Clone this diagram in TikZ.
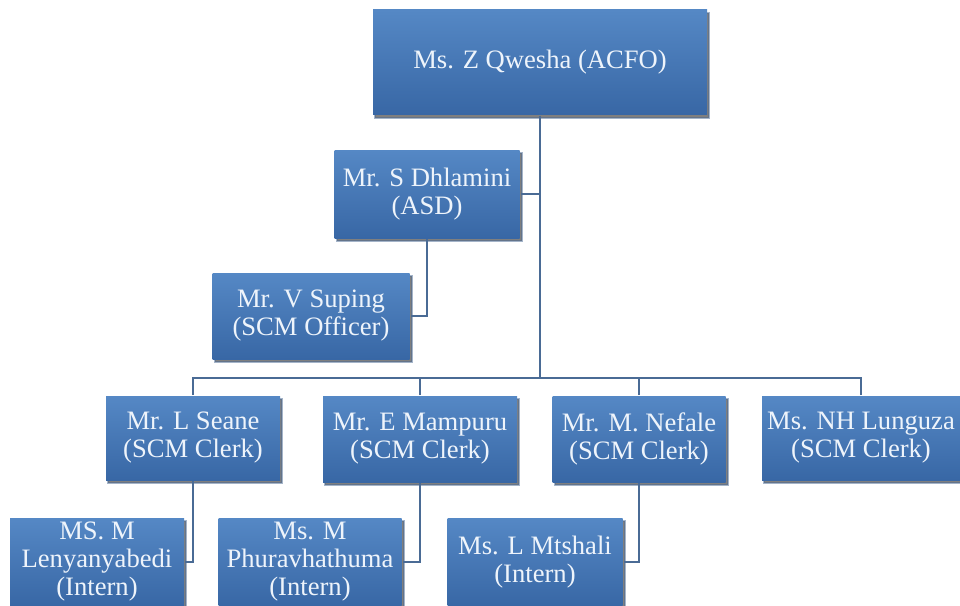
\documentclass[tikz,border=0pt]{standalone}
\usepackage{fontspec}
\setmainfont{Liberation Serif}
\usetikzlibrary{positioning,shadows}

\definecolor{boxtop}{HTML}{5588C5}
\definecolor{boxbot}{HTML}{3867A5}
\definecolor{linkcol}{HTML}{4A6B95}
\definecolor{txtcol}{HTML}{EEF4FB}

\begin{document}
\begin{tikzpicture}[
        x=0.5pt, y=-0.5pt,
        every node/.style={align=center, font=\fontsize{13.3}{14}\selectfont, text=txtcol},
        every path/.style={draw=linkcol, line width=1pt},
        person/.style={top color=boxtop, bottom color=boxbot, draw=none,
            inner sep=0pt, minimum width=#1, minimum height=43pt,
            drop shadow={shadow xshift=1pt, shadow yshift=-1.5pt, fill=black, opacity=0.5}}
    ]

    \useasboundingbox[fill=white, draw=none] (0,0) rectangle (960,606);

    % Nodes
    \node (acfo) [person=167pt, minimum height=52.5pt] at (540,62) {Ms. Z Qwesha (ACFO)};

    \node (asd) [person=92.5pt, minimum height=44pt] at (427,194) {Mr. S Dhlamini\\(ASD)};
    \node (officer) [person=98.5pt] at (311,316) {Mr. V Suping\\(SCM Officer)};

    \node (seane) [person=87pt, minimum height=42pt] at (193,438) {Mr. L Seane\\(SCM Clerk)};
    \node (mampuru) [person=97pt] at (420,439) {Mr. E Mampuru\\(SCM Clerk)};
    \node (nefale) [person=86.5pt] at (639,439) {Mr. M. Nefale\\(SCM Clerk)};
    \node (lunguza) [person=99pt, minimum height=42pt] at (861,438) {Ms. NH Lunguza\\(SCM Clerk)};

    \node (lenya) [person=87pt, minimum height=44pt] at (97,562) {MS. M\\Lenyanyabedi\\(Intern)};
    \node (phura) [person=91.5pt, minimum height=44pt] at (310,562) {Ms. M\\Phuravhathuma\\(Intern)};
    \node (mtshali) [person=87.5pt, minimum height=44pt] at (535,562) {Ms. L Mtshali\\(Intern)};

    \coordinate (bus) at (540,378);

    % Edges
    \draw (acfo.south) -- (bus);
    \draw (asd.east) -- (asd.east -| acfo.south);
    \draw (asd.south) |- (officer.east);

    \draw (seane.north) |- (bus);
    \draw (mampuru.north) |- (bus);
    \draw (nefale.north) |- (bus);
    \draw (lunguza.north) |- (bus);

    \draw (seane.south) |- (lenya.east);
    \draw (mampuru.south) |- (phura.east);
    \draw (nefale.south) |- (mtshali.east);

\end{tikzpicture}
\end{document}
